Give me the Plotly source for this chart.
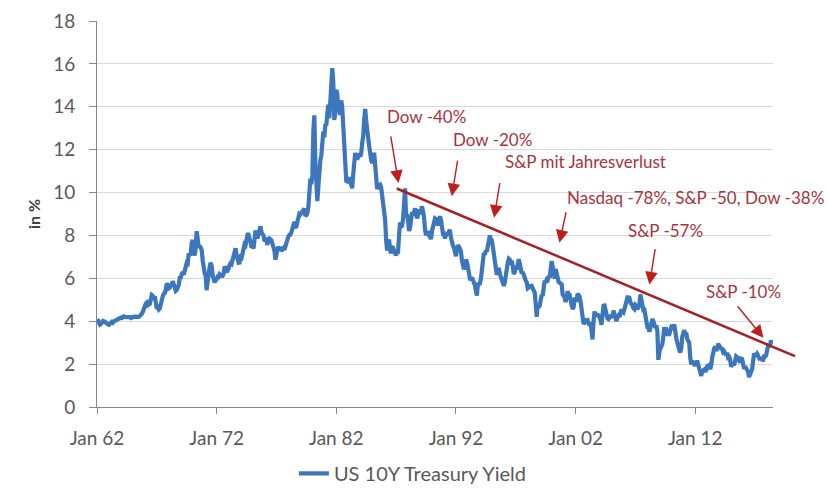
import pandas as pd
import plotly.graph_objects as go

# ---------------- data ----------------
# US 10Y Treasury yield in %, monthly from Jan 1962 to Jun 2018 (one row per year)
yield_pct = [
    4.08, 4.04, 3.93, 3.84, 3.87, 3.91, 4.01, 3.98, 3.98, 3.93, 3.92, 3.86,   # 1962
    3.83, 3.92, 3.93, 3.97, 3.93, 3.99, 4.02, 4.00, 4.08, 4.11, 4.12, 4.13,   # 1963
    4.17, 4.15, 4.22, 4.23, 4.20, 4.17, 4.19, 4.19, 4.20, 4.19, 4.15, 4.18,   # 1964
    4.19, 4.21, 4.21, 4.20, 4.21, 4.21, 4.20, 4.25, 4.29, 4.35, 4.45, 4.62,   # 1965
    4.61, 4.83, 4.87, 4.75, 4.78, 4.81, 5.02, 5.22, 5.18, 5.01, 5.16, 4.84,   # 1966
    4.58, 4.63, 4.54, 4.59, 4.85, 5.02, 5.16, 5.28, 5.30, 5.48, 5.75, 5.70,   # 1967
    5.53, 5.56, 5.74, 5.64, 5.87, 5.72, 5.50, 5.42, 5.46, 5.58, 5.70, 6.03,   # 1968
    6.04, 6.19, 6.30, 6.17, 6.32, 6.57, 6.72, 6.69, 7.16, 7.10, 7.14, 7.65,   # 1969
    7.79, 7.24, 7.07, 7.39, 8.20, 7.84, 7.46, 7.53, 7.39, 7.33, 6.84, 6.39,   # 1970
    6.24, 6.11, 5.45, 5.83, 6.39, 6.52, 6.73, 6.58, 6.14, 5.93, 5.81, 5.93,   # 1971
    5.95, 6.08, 6.07, 6.19, 6.13, 6.11, 6.11, 6.21, 6.55, 6.48, 6.28, 6.36,   # 1972
    6.46, 6.64, 6.71, 6.67, 6.85, 6.90, 7.13, 7.40, 7.09, 6.79, 6.73, 6.74,   # 1973
    6.99, 6.96, 7.21, 7.51, 7.58, 7.54, 7.81, 8.04, 8.04, 7.90, 7.68, 7.43,   # 1974
    7.50, 7.39, 7.73, 8.23, 8.06, 7.86, 8.06, 8.40, 8.43, 8.14, 8.05, 8.00,   # 1975
    7.74, 7.79, 7.73, 7.56, 7.90, 7.86, 7.83, 7.77, 7.59, 7.41, 7.29, 6.87,   # 1976
    7.21, 7.39, 7.46, 7.37, 7.46, 7.28, 7.33, 7.40, 7.34, 7.52, 7.58, 7.69,   # 1977
    7.96, 8.03, 8.04, 8.15, 8.35, 8.46, 8.64, 8.41, 8.42, 8.64, 8.81, 9.01,   # 1978
    8.98, 9.03, 9.12, 9.18, 9.25, 8.91, 8.95, 9.03, 9.33, 10.30, 10.65, 10.39,  # 1979
    10.80, 12.90, 13.60, 11.47, 10.18, 9.60, 10.25, 11.10, 11.51, 11.75, 12.68, 12.84,  # 1980
    12.57, 13.19, 13.12, 13.68, 14.10, 13.47, 14.28, 14.94, 15.80, 15.15, 13.39, 13.72,  # 1981
    14.80, 14.60, 13.86, 13.87, 13.62, 14.30, 13.95, 13.06, 12.34, 10.91, 10.55, 10.54,  # 1982
    10.46, 10.72, 10.51, 10.40, 10.20, 10.85, 11.38, 11.85, 11.65, 11.54, 11.69, 11.83,  # 1983
    11.67, 11.84, 12.32, 12.63, 13.41, 13.90, 13.36, 12.72, 12.52, 12.16, 11.57, 11.50,  # 1984
    11.38, 11.51, 11.86, 11.43, 10.85, 10.16, 10.31, 10.33, 10.37, 10.24, 9.78, 9.26,    # 1985
    9.19, 8.70, 7.78, 7.30, 7.71, 7.80, 7.30, 7.17, 7.45, 7.43, 7.25, 7.11,   # 1986
    7.08, 7.25, 7.25, 8.02, 8.61, 8.40, 8.45, 8.76, 9.42, 10.20, 8.86, 8.99,  # 1987
    8.67, 8.21, 8.37, 8.72, 9.09, 8.92, 9.06, 9.26, 8.98, 8.80, 8.96, 9.11,   # 1988
    9.09, 9.17, 9.36, 9.18, 8.86, 8.28, 8.02, 8.11, 8.19, 8.01, 7.87, 7.84,   # 1989
    8.21, 8.47, 8.59, 8.79, 8.76, 8.48, 8.47, 8.75, 8.89, 8.72, 8.39, 8.08,   # 1990
    8.09, 7.85, 8.11, 8.04, 8.07, 8.28, 8.27, 7.90, 7.65, 7.53, 7.42, 7.09,   # 1991
    7.03, 7.34, 7.54, 7.48, 7.39, 7.26, 6.84, 6.59, 6.42, 6.59, 6.87, 6.77,   # 1992
    6.60, 6.26, 5.98, 5.97, 6.04, 5.96, 5.81, 5.68, 5.36, 5.20, 5.72, 5.77,   # 1993
    5.75, 5.97, 6.48, 6.97, 7.18, 7.10, 7.30, 7.24, 7.46, 7.74, 8.00, 7.81,   # 1994
    7.78, 7.47, 7.20, 7.06, 6.63, 6.17, 6.28, 6.49, 6.20, 6.04, 5.93, 5.71,   # 1995
    5.65, 5.81, 6.27, 6.51, 6.74, 6.91, 6.87, 6.64, 6.83, 6.53, 6.20, 6.30,   # 1996
    6.58, 6.42, 6.69, 6.89, 6.71, 6.49, 6.22, 6.30, 6.21, 6.03, 5.88, 5.81,   # 1997
    5.54, 5.57, 5.65, 5.64, 5.65, 5.50, 5.46, 5.34, 4.81, 4.20, 4.83, 4.65,   # 1998
    4.72, 5.00, 5.23, 5.18, 5.54, 5.90, 5.79, 5.94, 5.92, 6.11, 6.03, 6.28,   # 1999
    6.80, 6.52, 6.26, 5.99, 6.44, 6.10, 6.05, 5.83, 5.80, 5.74, 5.72, 5.24,   # 2000
    5.16, 5.10, 4.89, 5.14, 5.39, 5.28, 5.24, 4.97, 4.73, 4.57, 4.65, 5.09,   # 2001
    5.04, 4.91, 5.28, 5.21, 5.16, 4.93, 4.65, 4.26, 3.87, 3.94, 4.05, 4.03,   # 2002
    4.05, 3.90, 3.81, 3.96, 3.57, 3.15, 3.98, 4.45, 4.27, 4.29, 4.30, 4.27,   # 2003
    4.15, 4.08, 3.83, 4.35, 4.72, 4.73, 4.50, 4.28, 4.13, 4.10, 4.19, 4.23,   # 2004
    4.22, 4.17, 4.50, 4.34, 4.14, 4.00, 4.18, 4.26, 4.20, 4.46, 4.54, 4.47,   # 2005
    4.42, 4.57, 4.72, 4.99, 5.11, 5.11, 5.09, 4.88, 4.72, 4.73, 4.60, 4.56,   # 2006
    4.76, 4.72, 4.56, 4.69, 4.75, 5.25, 5.00, 4.67, 4.52, 4.53, 4.15, 4.10,   # 2007
    3.74, 3.74, 3.51, 3.68, 3.88, 4.10, 4.01, 3.89, 3.69, 3.81, 3.53, 2.20,   # 2008
    2.52, 2.87, 2.82, 2.93, 3.29, 3.72, 3.56, 3.59, 3.40, 3.39, 3.40, 3.59,   # 2009
    3.73, 3.69, 3.73, 3.85, 3.42, 3.20, 3.01, 2.70, 2.65, 2.54, 2.76, 3.29,   # 2010
    3.39, 3.58, 3.41, 3.46, 3.17, 3.00, 3.00, 2.30, 1.98, 2.15, 2.01, 1.98,   # 2011
    1.97, 1.97, 2.17, 2.05, 1.80, 1.62, 1.45, 1.68, 1.72, 1.75, 1.65, 1.72,   # 2012
    1.91, 1.98, 1.96, 1.76, 1.93, 2.30, 2.58, 2.74, 2.81, 2.62, 2.72, 2.95,   # 2013
    2.86, 2.71, 2.72, 2.71, 2.56, 2.60, 2.54, 2.42, 2.53, 2.30, 2.33, 2.21,   # 2014
    1.88, 1.98, 2.04, 1.94, 2.20, 2.36, 2.32, 2.17, 2.17, 2.07, 2.26, 2.24,   # 2015
    2.09, 1.78, 1.89, 1.81, 1.81, 1.64, 1.40, 1.56, 1.63, 1.76, 2.14, 2.49,   # 2016
    2.43, 2.42, 2.48, 2.30, 2.30, 2.19, 2.32, 2.21, 2.20, 2.36, 2.35, 2.40,   # 2017
    2.58, 2.86, 2.84, 2.87, 3.10, 2.95,                                       # 2018
]
months = pd.date_range("1962-01-01", periods=len(yield_pct), freq="MS")
series_name = "US 10Y Treasury Yield"

x_tick_dates = ["1962-01-01", "1972-01-01", "1982-01-01", "1992-01-01", "2002-01-01", "2012-01-01"]
x_tick_labels = ["Jan 62", "Jan 72", "Jan 82", "Jan 92", "Jan 02", "Jan 12"]
x_range = ["1962-01-01", "2018-07-01"]
y_ticks = [0, 2, 4, 6, 8, 10, 12, 14, 16, 18]
y_title = "in %"

# descending trend line (resistance)
trend_dates = ["1987-01-20", "2020-05-01"]
trend_values = [10.19, 2.37]

# event annotations
event_labels = ["Dow -40%", "Dow -20%", "S&P mit Jahresverlust",
                "Nasdaq -78%, S&P -50, Dow -38%", "S&P -57%", "S&P -10%"]
event_tip_dates = ["1987-03-15", "1991-08-28", "1995-03-10", "2000-08-25", "2008-03-03", "2017-09-10"]
event_tip_values = [10.45, 9.83, 8.83, 7.66, 5.71, 3.23]
event_text_dates = ["1989-07-01", "1995-01-08", "2002-11-03", "2011-12-24", "2009-07-01", "2016-01-08"]
event_text_values = [13.54, 12.47, 11.46, 9.77, 8.24, 5.40]
# arrow tail offsets in px relative to arrow tip
arrow_ax = [-8, 6, 6, 7, 6, -27]
arrow_ay = [-48, -37, -36, -32, -37, -33]

# ---------------- styling ----------------
FONT = "Lato"
BLUE = "#3C76BD"
LINE_RED = "#A81E26"
ARROW_RED = "#BE1E1E"
TEXT_RED = "#A8343C"
GREY_TXT = "#595959"
AXIS_GREY = "#868686"
GRID = "#D9D9D9"

W, H = 829, 492
L_M, R_M, T_M, B_M = 97, 30, 21, 85
plot_w = W - L_M - R_M
main_frac = (773 - L_M) / plot_w  # main axes end at x=773px

fig = go.Figure()

fig.add_trace(go.Scatter(
    x=months, y=yield_pct, mode="lines", name=series_name,
    line=dict(color=BLUE, width=4.2), xaxis="x", yaxis="y",
))

# extended x-scale (same px/day) so the trend line can run past the axis end
x0 = pd.Timestamp(x_range[0])
x1 = pd.Timestamp(x_range[1])
x2_end = x0 + (x1 - x0) / main_frac
fig.add_trace(go.Scatter(
    x=pd.to_datetime(trend_dates), y=trend_values, mode="lines",
    line=dict(color=LINE_RED, width=2.5), showlegend=False,
    xaxis="x2", yaxis="y2", hoverinfo="skip",
))

annotations = []
for lab, td, tv, xd, xv, ax, ay in zip(event_labels, event_tip_dates, event_tip_values,
                                       event_text_dates, event_text_values, arrow_ax, arrow_ay):
    annotations.append(dict(
        x=td, y=tv, xref="x", yref="y", text="", showarrow=True,
        ax=ax, ay=ay, arrowhead=2, arrowsize=1.8, arrowwidth=1.4, arrowcolor=ARROW_RED,
        standoff=0,
    ))
    annotations.append(dict(
        x=xd, y=xv, xref="x", yref="y", text=lab, showarrow=False,
        font=dict(family=FONT, size=17, color=TEXT_RED), xanchor="center", yanchor="middle",
    ))

fig.update_layout(
    width=W, height=H,
    margin=dict(l=L_M, r=R_M, t=T_M, b=B_M, autoexpand=False),
    paper_bgcolor="white", plot_bgcolor="rgba(0,0,0,0)",
    font=dict(family=FONT, size=19, color=GREY_TXT),
    showlegend=True,
    legend=dict(orientation="h", x=0.45, xanchor="center", y=-0.172, yanchor="middle",
                font=dict(family=FONT, size=20, color=GREY_TXT), bgcolor="rgba(0,0,0,0)"),
    xaxis=dict(
        domain=[0, main_frac], range=x_range, type="date",
        tickmode="array", tickvals=x_tick_dates, ticktext=x_tick_labels,
        showgrid=False, zeroline=False, showline=True, linecolor=AXIS_GREY, linewidth=1,
        ticks="outside", ticklen=6, tickcolor=AXIS_GREY, tickwidth=1,
        tickfont=dict(family=FONT, size=19, color=GREY_TXT), ticklabelstandoff=8,
        anchor="y",
    ),
    yaxis=dict(
        domain=[0, 1], range=[0, 18], tickmode="array", tickvals=y_ticks,
        showgrid=True, gridcolor=GRID, gridwidth=1, zeroline=False,
        showline=True, linecolor=AXIS_GREY, linewidth=1,
        ticks="outside", ticklen=7, tickcolor=AXIS_GREY, tickwidth=1,
        tickfont=dict(family=FONT, size=19, color=GREY_TXT), ticklabelstandoff=10,
        title=dict(text=y_title, font=dict(family=FONT, size=16, color="#404040", weight="bold"), standoff=8),
        anchor="x",
    ),
    xaxis2=dict(domain=[0, 1], range=[x0, x2_end], type="date", visible=False, anchor="y2"),
    yaxis2=dict(domain=[0, 1], range=[0, 18], visible=False, anchor="x2"),
    annotations=annotations,
)

fig.write_html("out.html")
